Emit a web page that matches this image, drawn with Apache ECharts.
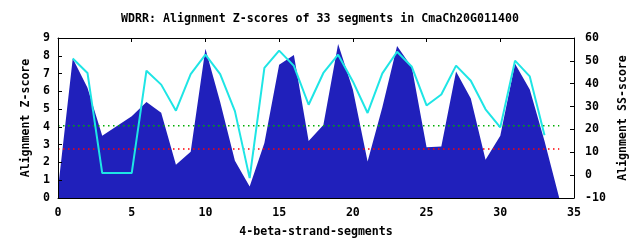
<!DOCTYPE html>
<html><head><meta charset="utf-8">
<script src="https://cdn.jsdelivr.net/npm/echarts@6/dist/echarts.min.js"></script>
<style>html,body{margin:0;padding:0;background:#fff}#c{width:640px;height:240px}</style>
</head><body><div id="c"></div>
<script>
const titleText = 'WDRR: Alignment Z-scores of 33 segments in CmaCh20G011400';
const zSegments = [0,1,2,3,4,5,6,7,8,9,10,11,12,13,14,15,16,17,18,19,20,21,22,23,24,25,26,27,28,29,30,31,32,33,34];
const zScores = [0.5,7.85,6.2,3.5,4.05,4.6,5.4,4.8,1.87,2.6,8.4,5.4,2.1,0.65,3.1,7.5,8.05,3.2,4.1,8.66,6.1,2.06,5.1,8.55,7.35,2.85,2.9,7.12,5.6,2.15,3.5,7.55,6.1,3.2,0];
const ssSegments = [1,2,3,4,5,6,7,8,9,10,11,12,13,14,15,16,17,18,19,20,21,22,23,24,25,26,27,28,29,30,31,32,33];
const ssScores = [51,44.7,0.9,0.9,0.9,45.7,39.6,28.2,44.2,52.7,44.2,28,-1.3,46.9,54.5,47.8,30.8,44.7,52.7,41,27.2,44.5,54,47.4,30.5,35.3,47.9,41.3,28.8,20.9,50.1,43.2,17.5];
const thresholdRange = [0, 34];
const zThresholdHigh = 4.07;
const zThresholdLow = 2.76;

const FONT = "'DejaVu Sans Mono', 'Liberation Mono', monospace";
const FS = 11.6;
const chart = echarts.init(document.getElementById('c'), null, {renderer: 'canvas'});
const lbl = {fontFamily: FONT, fontSize: FS, fontWeight: 'bold', color: '#000'};
chart.setOption({
  animation: false,
  backgroundColor: '#fff',
  title: {text: titleText, left: 'center', top: 8, textStyle: Object.assign({}, lbl)},
  grid: {left: 58, right: 66, top: 38, bottom: 42, containLabel: false, outerBoundsMode: 'none'},
  xAxis: [
    {type: 'value', min: 0, max: 35, interval: 5, position: 'bottom', z: 5,
     name: '4-beta-strand-segments', nameLocation: 'middle', nameGap: 28, nameTextStyle: lbl,
     axisLine: {show: true, onZero: false, lineStyle: {color: '#000', width: 1}},
     axisTick: {show: false}, splitLine: {show: false},
     axisLabel: Object.assign({margin: 9}, lbl)},
    {type: 'value', min: 0, max: 35, interval: 5, position: 'top', z: 5,
     axisLine: {show: true, onZero: false, lineStyle: {color: '#000', width: 1}},
     axisTick: {show: true, inside: true, length: 4, lineStyle: {color: '#000'}},
     splitLine: {show: false}, axisLabel: {show: false}}
  ],
  yAxis: [
    {type: 'value', min: 0, max: 9, interval: 1, position: 'left', z: 5,
     name: 'Alignment Z-score', nameLocation: 'middle', nameGap: 25, nameRotate: 90, nameTextStyle: lbl,
     axisLine: {show: true, onZero: false, lineStyle: {color: '#000', width: 1}},
     axisTick: {show: true, inside: true, length: 4, lineStyle: {color: '#000'}},
     splitLine: {show: false}, axisLabel: Object.assign({margin: 8}, lbl)},
    {type: 'value', min: -10, max: 60, interval: 10, position: 'right', z: 5,
     name: 'Alignment SS-score', nameLocation: 'middle', nameGap: 30, nameRotate: 90, nameTextStyle: lbl,
     axisLine: {show: true, onZero: false, lineStyle: {color: '#000', width: 1}},
     axisTick: {show: true, inside: true, length: 4, lineStyle: {color: '#000'}},
     splitLine: {show: false}, axisLabel: Object.assign({margin: 11}, lbl)}
  ],
  series: [
    {type: 'line', name: 'Z', xAxisIndex: 0, yAxisIndex: 0, showSymbol: false, symbol: 'none',
     data: zSegments.map((x, i) => [x, zScores[i]]),
     lineStyle: {width: 0, color: '#2020bb'}, itemStyle: {color: '#2020bb'},
     areaStyle: {color: '#2020bb', opacity: 1, origin: 'start'}, z: 2},
    {type: 'line', name: 'thrHigh', xAxisIndex: 0, yAxisIndex: 0, symbol: 'none',
     data: thresholdRange.map(x => [x, zThresholdHigh]),
     lineStyle: {width: 1.5, color: '#00b000', type: [1.5, 3.5]}, z: 3},
    {type: 'line', name: 'thrLow', xAxisIndex: 0, yAxisIndex: 0, symbol: 'none',
     data: thresholdRange.map(x => [x, zThresholdLow]),
     lineStyle: {width: 1.5, color: '#ff0000', type: [1.5, 3.5]}, z: 3},
    {type: 'line', name: 'SS', xAxisIndex: 0, yAxisIndex: 1, symbol: 'none',
     data: ssSegments.map((x, i) => [x, ssScores[i]]),
     lineStyle: {width: 2, color: '#1ee5e5'}, itemStyle: {color: '#1ee5e5'}, z: 4}
  ]
});
</script></body></html>
